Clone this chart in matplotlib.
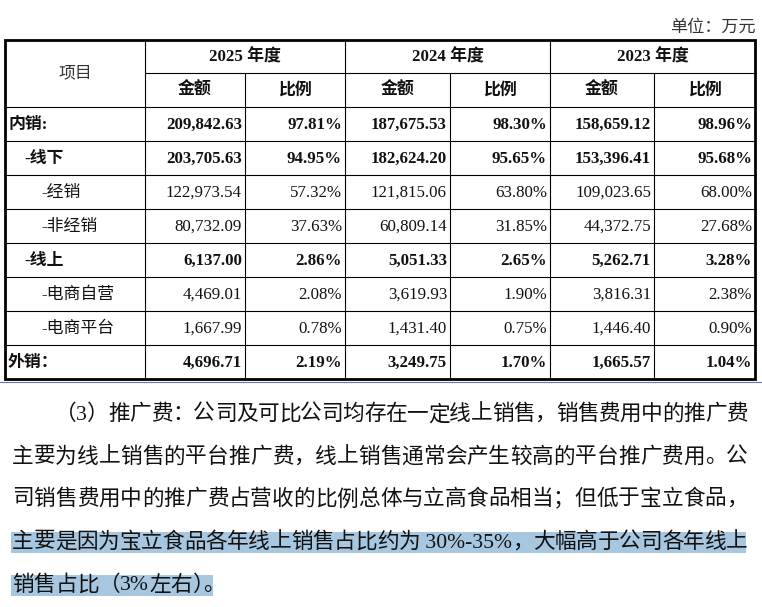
import matplotlib
matplotlib.use("Agg")
import matplotlib.pyplot as plt
from matplotlib.patches import Rectangle
from matplotlib.font_manager import findfont, FontProperties, get_font

plt.rcParams['font.family'] = ['Liberation Serif', 'Noto Sans CJK SC', 'DejaVu Sans']

# ---------------- data ----------------
unit_label = "单位：万元"
corner_label = "项目"
years = ["2025 年度", "2024 年度", "2023 年度"]
sub_headers = ["金额", "比例"]
row_labels = ["内销:", "-线下", "-经销", "-非经销", "-线上", "-电商自营", "-电商平台", "外销："]
row_levels = [0, 1, 2, 2, 1, 2, 2, 0]
row_bold = [True, True, False, False, True, False, False, True]

amount_2025 = ["209,842.63", "203,705.63", "122,973.54", "80,732.09", "6,137.00", "4,469.01", "1,667.99", "4,696.71"]
ratio_2025 = ["97.81%", "94.95%", "57.32%", "37.63%", "2.86%", "2.08%", "0.78%", "2.19%"]
amount_2024 = ["187,675.53", "182,624.20", "121,815.06", "60,809.14", "5,051.33", "3,619.93", "1,431.40", "3,249.75"]
ratio_2024 = ["98.30%", "95.65%", "63.80%", "31.85%", "2.65%", "1.90%", "0.75%", "1.70%"]
amount_2023 = ["158,659.12", "153,396.41", "109,023.65", "44,372.75", "5,262.71", "3,816.31", "1,446.40", "1,665.57"]
ratio_2023 = ["98.96%", "95.68%", "68.00%", "27.68%", "3.28%", "2.38%", "0.90%", "1.04%"]

para_lines = [
    "（3）推广费：公司及可比公司均存在一定线上销售，销售费用中的推广费",
    "主要为线上销售的平台推广费，线上销售通常会产生较高的平台推广费用。公",
    "司销售费用中的推广费占营收的比例总体与立高食品相当；但低于宝立食品，",
    "主要是因为宝立食品各年线上销售占比约为 30%-35%，大幅高于公司各年线上",
    "销售占比（3%左右）。",
]
para_highlight = [False, False, False, True, True]
para_justify = [True, True, True, True, False]

# ---------------- layout ----------------
W, H = 762, 607
DPI = 100
fig = plt.figure(figsize=(W / DPI, H / DPI), dpi=DPI)
ax = fig.add_axes([0, 0, 1, 1])
ax.set_xlim(0, W)
ax.set_ylim(H, 0)
ax.axis('off')

col_x = [5, 145, 245, 345, 450, 550, 654, 755]
row_y = [40, 73, 107, 141, 175, 209, 243, 277, 311, 345, 379]
FS = 12.2
ink = "#111111"

# grid lines
thin = 0.8
for x in col_x[1:-1]:
    top = row_y[0] if x in (col_x[1], col_x[3], col_x[5]) else row_y[1]
    ax.plot([x, x], [top, row_y[-1]], color="black", lw=thin, solid_capstyle='butt')
for i, y in enumerate(row_y[1:-1]):
    x0 = col_x[1] if i == 0 else col_x[0]
    ax.plot([x0, col_x[-1]], [y, y], color="black", lw=thin, solid_capstyle='butt')
ax.add_patch(Rectangle((col_x[0], row_y[0]), col_x[-1] - col_x[0], row_y[-1] - row_y[0],
                       fill=False, edgecolor="black", lw=2.0, joinstyle='miter'))
# blue page line below table
ax.plot([0, W], [382, 382], color="#5b7fbd", lw=0.8)

# unit
ax.text(756, 27, unit_label, ha='right', va='center', fontsize=12.3, color="#333333",
        family=['Noto Sans CJK SC'])

# header
ax.text((col_x[0] + col_x[1]) / 2, (row_y[0] + row_y[2]) / 2, corner_label, ha='center', va='center',
        fontsize=FS, color="#333333")
for k, yr in enumerate(years):
    xa, xb = col_x[1 + 2 * k], col_x[3 + 2 * k]
    ax.text((xa + xb) / 2, (row_y[0] + row_y[1]) / 2 + 1, yr, ha='center', va='center',
            fontsize=FS, fontweight='bold', color=ink)
    for j, sh in enumerate(sub_headers):
        xa2, xb2 = col_x[1 + 2 * k + j], col_x[2 + 2 * k + j]
        ax.text((xa2 + xb2) / 2, (row_y[1] + row_y[2]) / 2 + 1, sh, ha='center', va='center',
                fontsize=FS, fontweight='bold', color=ink)

# body
cols = [amount_2025, ratio_2025, amount_2024, ratio_2024, amount_2023, ratio_2023]
label_x = {0: 8, 1: 24, 2: 41}
for r, lab in enumerate(row_labels):
    yc = (row_y[2 + r] + row_y[3 + r]) / 2 + 1
    wt = 'bold' if row_bold[r] else 'normal'
    ax.text(label_x[row_levels[r]], yc, lab, ha='left', va='center', fontsize=FS,
            fontweight=wt, color=ink)
    for c, vals in enumerate(cols):
        ax.text(col_x[2 + c] - 3, yc, vals[r], ha='right', va='center', fontsize=FS,
                fontweight=wt, color=ink)

# paragraph
PFS = 15.6
EM = PFS * DPI / 72.0
line_y = [415, 458, 500, 543, 586]
line_x0 = [55, 12, 12, 12, 12]
x_right = 748
PUNCT = "，。：；）（、"

latin_font = get_font(findfont(FontProperties(family='Liberation Serif')))


def advance(tok):
    if ord(tok[0]) >= 128:
        return EM
    latin_font.set_size(PFS, DPI)
    return sum(latin_font.load_char(ord(ch)).linearHoriAdvance / 65536.0 for ch in tok)


def tokenize(s):
    toks = []
    buf = ""
    for ch in s:
        if ord(ch) < 128:
            buf += ch
        else:
            if buf:
                toks.append(buf)
                buf = ""
            toks.append(ch)
    if buf:
        toks.append(buf)
    return toks


for i, line in enumerate(para_lines):
    toks = tokenize(line)
    advs = [advance(t) for t in toks]
    # compress a closing bracket followed by punctuation to half width
    for k in range(len(toks) - 1):
        if toks[k] == "）" and toks[k + 1] in PUNCT:
            advs[k] = EM / 2
    total = sum(advs)
    gap = (x_right - line_x0[i] - total) / (len(toks) - 1) if para_justify[i] else 0.0
    x = line_x0[i]
    last_x = x
    for t, a in zip(toks, advs):
        ax.text(x, line_y[i], t, ha='left', va='center', fontsize=PFS, color=ink, zorder=3)
        last_x = x
        x += a + gap
    end = x - gap
    if para_highlight[i]:
        right = end - 2 if para_justify[i] else last_x + 0.45 * EM
        ax.add_patch(Rectangle((line_x0[i] - 1, line_y[i] - 11), right - line_x0[i] + 1, 21,
                               facecolor="#a7c7e0", edgecolor='none', zorder=1))

fig.savefig("out.png", dpi=DPI)
